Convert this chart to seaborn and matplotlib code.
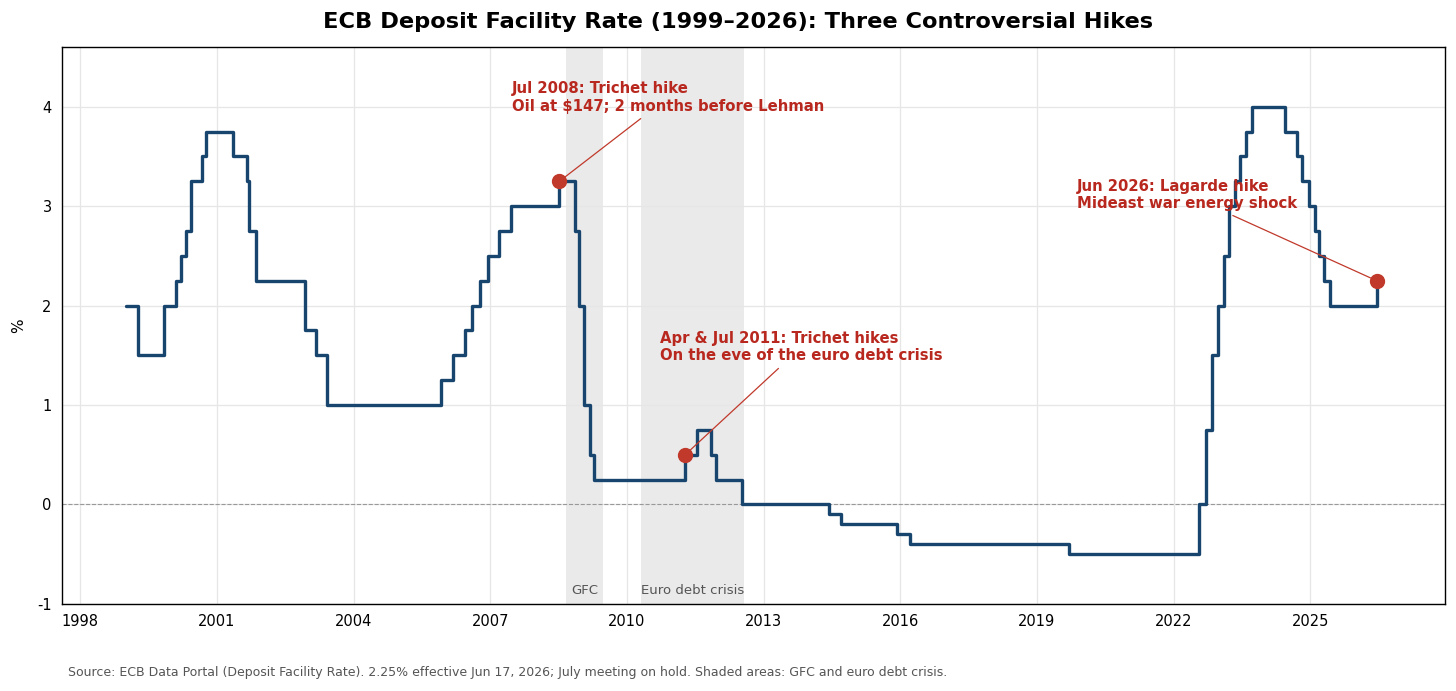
import pandas as pd
import matplotlib.pyplot as plt
import matplotlib.dates as mdates
import seaborn as sns

# ECB deposit facility rate: date of change and new level (%)
change_dates = [
    "1999-01-01", "1999-04-09", "1999-11-05", "2000-02-04", "2000-03-17",
    "2000-04-28", "2000-06-09", "2000-09-01", "2000-10-06", "2001-05-11",
    "2001-08-31", "2001-09-18", "2001-11-09", "2002-12-06", "2003-03-07",
    "2003-06-06", "2005-12-06", "2006-03-08", "2006-06-15", "2006-08-09",
    "2006-10-11", "2006-12-13", "2007-03-14", "2007-06-13", "2008-07-09",
    "2008-11-12", "2008-12-10", "2009-01-21", "2009-03-11", "2009-04-08",
    "2011-04-13", "2011-07-13", "2011-11-09", "2011-12-14", "2012-07-11",
    "2014-06-11", "2014-09-10", "2015-12-09", "2016-03-16", "2019-09-18",
    "2022-07-27", "2022-09-14", "2022-11-02", "2022-12-21", "2023-02-08",
    "2023-03-22", "2023-05-10", "2023-06-21", "2023-08-02", "2023-09-20",
    "2024-06-12", "2024-09-18", "2024-10-23", "2024-12-18", "2025-02-05",
    "2025-03-12", "2025-04-23", "2025-06-11", "2026-06-17",
]
rates = [
    2.00, 1.50, 2.00, 2.25, 2.50,
    2.75, 3.25, 3.50, 3.75, 3.50,
    3.25, 2.75, 2.25, 1.75, 1.50,
    1.00, 1.25, 1.50, 1.75, 2.00,
    2.25, 2.50, 2.75, 3.00, 3.25,
    2.75, 2.00, 1.00, 0.50, 0.25,
    0.50, 0.75, 0.50, 0.25, 0.00,
    -0.10, -0.20, -0.30, -0.40, -0.50,
    0.00, 0.75, 1.50, 2.00, 2.50,
    3.00, 3.25, 3.50, 3.75, 4.00,
    3.75, 3.50, 3.25, 3.00, 2.75,
    2.50, 2.25, 2.00, 2.25,
]

# controversial hikes
hike_dates = ["2008-07-09", "2011-04-13", "2026-06-17"]
hike_rates = [3.25, 0.50, 2.25]
hike_labels = [
    "Jul 2008: Trichet hike\nOil at $147; 2 months before Lehman",
    "Apr & Jul 2011: Trichet hikes\nOn the eve of the euro debt crisis",
    "Jun 2026: Lagarde hike\nMideast war energy shock",
]
label_dates = ["2007-06-25", "2010-09-25", "2019-11-20"]
label_rates = [3.93, 1.42, 2.95]

# shaded crisis periods
crisis_names = ["GFC", "Euro debt crisis"]
crisis_start = ["2008-09-01", "2010-04-20"]
crisis_end = ["2009-06-25", "2012-07-26"]

df = pd.DataFrame({"date": pd.to_datetime(change_dates), "rate": rates})

sns.set_style("white")
plt.rcParams["text.color"] = "black"
plt.rcParams["xtick.color"] = "black"
plt.rcParams["ytick.color"] = "black"
plt.rcParams["axes.labelcolor"] = "black"

fig, ax = plt.subplots(figsize=(14.56, 6.91), dpi=100)
fig.subplots_adjust(left=0.0426, right=0.9924, top=0.932, bottom=0.126)

ax.grid(True, color="#e6e6e6", linewidth=0.9)
ax.set_axisbelow(True)

for name, s, e in zip(crisis_names, crisis_start, crisis_end):
    s, e = pd.Timestamp(s), pd.Timestamp(e)
    ax.axvspan(s, e, color="#d6d6d6", alpha=0.5, linewidth=0, zorder=0.5)
    ax.text(s + (e - s) / 2, -0.86, name, ha="center", va="center",
            fontsize=9.5, color="#555555")

ax.axhline(0, color="#999999", linestyle="--", linewidth=0.8, zorder=1)

sns.lineplot(data=df, x="date", y="rate", drawstyle="steps-post",
             color="#17456e", linewidth=2.4, estimator=None, ax=ax, zorder=3)

for d, r, txt, ld, lr in zip(hike_dates, hike_rates, hike_labels, label_dates, label_rates):
    ax.plot(pd.Timestamp(d), r, "o", color="#c0392b", markersize=10, zorder=4)
    ax.annotate(txt, xy=(pd.Timestamp(d), r), xytext=(pd.Timestamp(ld), lr),
                ha="left", va="bottom", fontsize=10.7, fontweight="bold",
                color="#b8281e",
                arrowprops=dict(arrowstyle="-", color="#c0392b", lw=0.9,
                                shrinkA=2, shrinkB=4))

ax.set_ylim(-1, 4.6)
ax.set_yticks([-1, 0, 1, 2, 3, 4])
ax.set_yticklabels(["-1", "0", "1", "2", "3", "4"])
ax.set_xlim(pd.Timestamp("1997-08-08"), pd.Timestamp("2027-12-16"))
ax.xaxis.set_major_locator(mdates.YearLocator(3))
ax.xaxis.set_major_formatter(mdates.DateFormatter("%Y"))
ax.tick_params(axis="both", labelsize=10.5, length=4, color="black")
ax.set_xlabel("")
ax.set_ylabel("%", fontsize=11, labelpad=8)

for sp in ax.spines.values():
    sp.set_color("black")
    sp.set_linewidth(1.0)

fig.suptitle("ECB Deposit Facility Rate (1999\u20132026): Three Controversial Hikes",
             fontsize=16.2, fontweight="bold", x=0.507, y=0.983, color="black")
fig.text(0.047, 0.022,
         "Source: ECB Data Portal (Deposit Facility Rate). 2.25% effective Jun 17, 2026; "
         "July meeting on hold. Shaded areas: GFC and euro debt crisis.",
         fontsize=9, color="#555555")

fig.savefig("out.png", dpi=100)
